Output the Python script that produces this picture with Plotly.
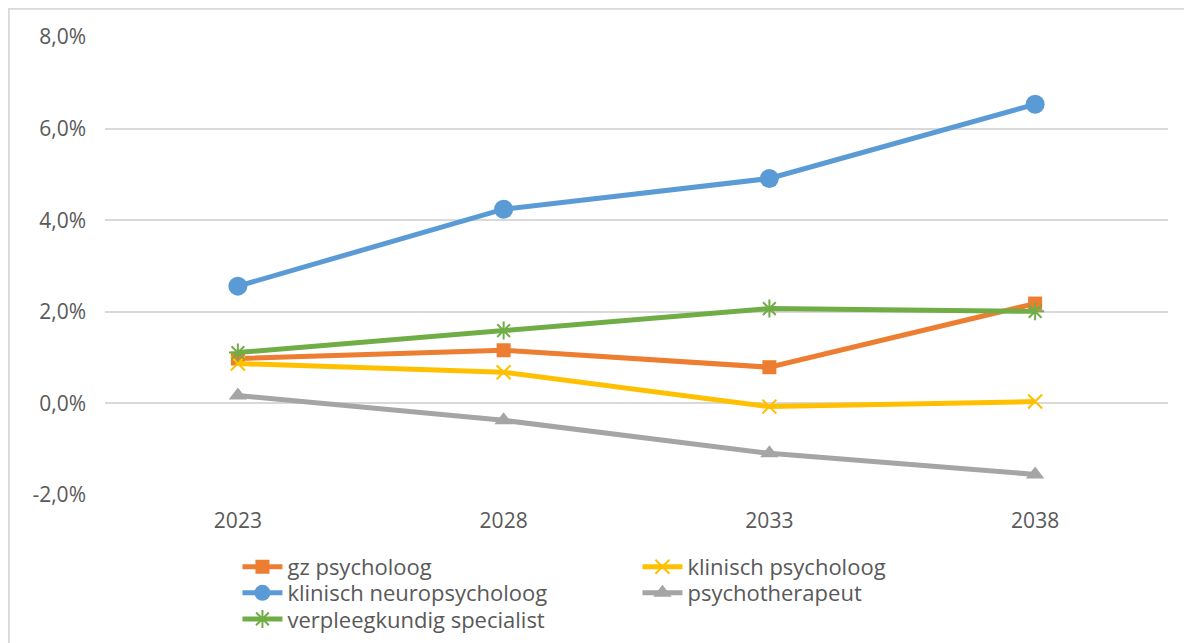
import plotly.graph_objects as go

years = ["2023", "2028", "2033", "2038"]

gz_psycholoog = [0.0098, 0.0116, 0.0079, 0.0218]
klinisch_psycholoog = [0.0087, 0.0068, -0.0007, 0.0004]
klinisch_neuropsycholoog = [0.0256, 0.0424, 0.0491, 0.0653]
psychotherapeut = [0.0017, -0.0037, -0.0109, -0.0155]
verpleegkundig_specialist = [0.0111, 0.0159, 0.0207, 0.0201]

y_ticks = [-0.02, 0.0, 0.02, 0.04, 0.06, 0.08]
y_tick_labels = ["-2,0%", "0,0%", "2,0%", "4,0%", "6,0%", "8,0%"]

series = [
    ("gz psycholoog", gz_psycholoog, "#ED7D31", "legend",
     dict(symbol="square", size=14)),
    ("klinisch psycholoog", klinisch_psycholoog, "#FFC000", "legend",
     dict(symbol="x-thin", size=14, line=dict(width=2, color="#FFC000"))),
    ("klinisch neuropsycholoog", klinisch_neuropsycholoog, "#5B9BD5", "legend2",
     dict(symbol="circle", size=19)),
    ("psychotherapeut", psychotherapeut, "#A5A5A5", "legend2",
     dict(symbol="triangle-up", size=16)),
    ("verpleegkundig specialist", verpleegkundig_specialist, "#70AD47", "legend3",
     dict(symbol="asterisk-open", size=15, line=dict(width=2, color="#70AD47"))),
]

fig = go.Figure()

for name, values, color, legend, marker in series:
    fig.add_trace(
        go.Scatter(
            x=years,
            y=values,
            mode="lines+markers",
            name=name,
            legend=legend,
            line=dict(color=color, width=5),
            marker=dict(color=color, **marker),
        )
    )

# chart area border (right and bottom edges fall outside the window)
fig.add_shape(
    type="rect", xref="paper", yref="paper",
    x0=-0.0905, x1=1.05, y0=-0.40, y1=1.0617,
    line=dict(color="#D9D9D9", width=2),
)

legend_style = dict(
    orientation="h",
    x=0.1246,
    xanchor="left", yanchor="middle",
    entrywidth=345,
    entrywidthmode="pixels",
    font=dict(size=22, color="#595959"),
    itemwidth=40,
    bgcolor="rgba(0,0,0,0)",
)

fig.update_layout(
    width=1200,
    height=660,
    margin=dict(l=97, r=40, t=29, b=173),
    paper_bgcolor="white",
    plot_bgcolor="white",
    font=dict(family="Open Sans", color="#595959", size=21),
    showlegend=True,
    legend=dict(y=-0.157, **legend_style),
    legend2=dict(y=-0.214, **legend_style),
    legend3=dict(y=-0.271, **legend_style),
    xaxis=dict(
        type="category",
        range=[-0.5, 3.5],
        showgrid=False,
        showline=False,
        ticks="",
        ticklabelstandoff=11,
    ),
    yaxis=dict(
        range=[-0.02, 0.08],
        tickvals=y_ticks,
        ticktext=y_tick_labels,
        gridcolor="#D9D9D9",
        gridwidth=1.5,
        zeroline=False,
        showline=False,
        ticklabelstandoff=18,
    ),
)

fig.write_html("out.html")
